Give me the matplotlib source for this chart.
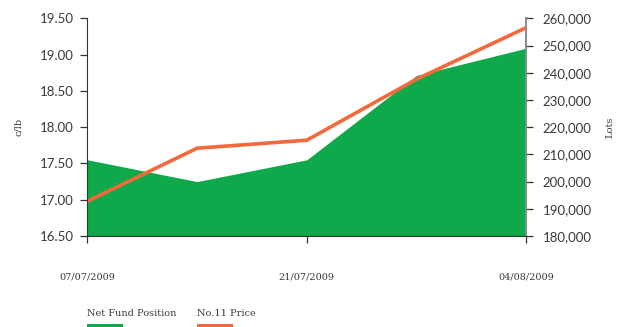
import matplotlib
matplotlib.use("Agg")
import matplotlib.pyplot as plt
import matplotlib.dates as mdates
from matplotlib.patches import Rectangle
from matplotlib.ticker import FuncFormatter
import pandas as pd

# --- data ---
dates = pd.to_datetime(["2009-07-07", "2009-07-14", "2009-07-21", "2009-07-28", "2009-08-04"])
net_fund_lots = [208000, 200000, 208000, 239000, 249000]   # right axis (Lots)
price_c_lb = [16.98, 17.71, 17.82, 18.66, 19.37]            # left axis (c/lb)
date_ticks = pd.to_datetime(["2009-07-07", "2009-07-21", "2009-08-04"])
left_ticks = [16.5, 17.0, 17.5, 18.0, 18.5, 19.0, 19.5]
right_ticks = [180000, 190000, 200000, 210000, 220000, 230000, 240000, 250000, 260000]

GREEN = "#0fa84a"
ORANGE = "#f26a3c"
TXT = "#3a3a3a"

fig = plt.figure(figsize=(6.21, 3.27), dpi=100)
ax = fig.add_axes([87.5 / 621, 1 - 236 / 327, (526 - 87.5) / 621, (236 - 18.3) / 327])
ax2 = ax.twinx()

# green area on right axis, orange line on left axis (kept on top)
ax2.fill_between(dates, right_ticks[0], net_fund_lots, color=GREEN, linewidth=0)
ax.plot(dates, price_c_lb, color=ORANGE, linewidth=2.6, solid_capstyle="butt")
ax.set_zorder(ax2.get_zorder() + 1)
ax.patch.set_visible(False)

ax.set_xlim(dates[0], dates[-1])
ax.set_ylim(left_ticks[0], left_ticks[-1])
ax2.set_ylim(right_ticks[0], right_ticks[-1])

ax.set_yticks(left_ticks)
ax.yaxis.set_major_formatter(FuncFormatter(lambda v, p: f"{v:.2f}"))
ax2.set_yticks(right_ticks)
ax2.yaxis.set_major_formatter(FuncFormatter(lambda v, p: f"{int(v):,}"))

ax.set_xticks(date_ticks)
ax.xaxis.set_major_formatter(mdates.DateFormatter("%d/%m/%Y"))

for a in (ax, ax2):
    a.spines["top"].set_visible(False)
ax.spines["right"].set_visible(False)
ax2.spines["left"].set_visible(False)
ax2.spines["bottom"].set_visible(False)
ax.spines["left"].set_color("#333333")
ax.spines["bottom"].set_color("#333333")
ax2.spines["right"].set_color("#8a8a8a")
ax2.spines["right"].set_linewidth(1.4)

ax.tick_params(axis="y", direction="out", length=5, width=0.9, color="#333333",
               pad=5, labelsize=9.5, labelcolor=TXT)
ax2.tick_params(axis="y", direction="out", length=5, width=0.9, color="#333333",
                pad=7, labelsize=9.5, labelcolor=TXT)
ax.tick_params(axis="x", direction="out", length=5, width=0.9, color="#333333",
               pad=21, labelsize=7, labelcolor=TXT)
for lab in ax.get_xticklabels():
    lab.set_fontfamily("DejaVu Serif")
for lab in ax.get_yticklabels() + ax2.get_yticklabels():
    lab.set_fontfamily("Lato")

ax.set_ylabel("c/lb", fontsize=7, color=TXT, family="DejaVu Serif", labelpad=12)
ax2.set_ylabel("Lots", fontsize=7, color=TXT, family="DejaVu Serif", labelpad=10)

# legend drawn manually below the chart
fig.text(86.7 / 621, 1 - 313 / 327, "Net Fund Position", fontsize=7, color=TXT,
         family="DejaVu Serif", va="center", ha="left")
fig.text(196.7 / 621, 1 - 313 / 327, "No.11 Price", fontsize=7, color=TXT,
         family="DejaVu Serif", va="center", ha="left")
fig.add_artist(Rectangle((86.7 / 621, 0), 36.6 / 621, 3.5 / 327,
                         transform=fig.transFigure, color=GREEN, linewidth=0))
fig.add_artist(Rectangle((196.7 / 621, 0), 36.6 / 621, 3.5 / 327,
                         transform=fig.transFigure, color=ORANGE, linewidth=0))

fig.savefig("out.png", dpi=100)
